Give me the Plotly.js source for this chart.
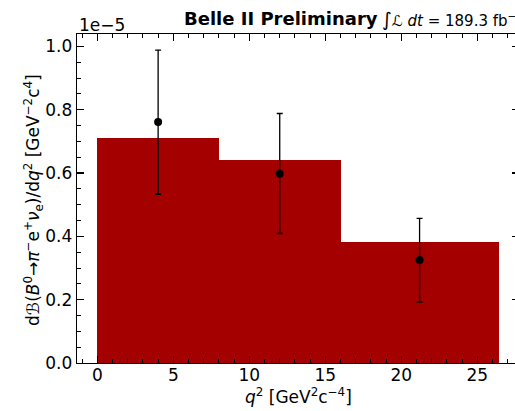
<!DOCTYPE html>
<html>
<head>
<meta charset="utf-8">
<script src="https://cdn.plot.ly/plotly-3.0.1.min.js"></script>
<style>
  html, body { margin: 0; padding: 0; overflow: hidden; background: #fff; }
  #chart { width: 520px; height: 411px; }
</style>
</head>
<body>
<div id="chart"></div>
<script>
// ---- data ----
const binEdges = [0, 8, 16, 26.4];
const predicted = [0.710e-5, 0.640e-5, 0.383e-5];
const measX = [4.0, 12.0, 21.2];
const measY = [0.761e-5, 0.598e-5, 0.325e-5];
const errUp = [0.227e-5, 0.190e-5, 0.132e-5];
const errDown = [0.228e-5, 0.189e-5, 0.133e-5];
const yTickVals = [0, 0.2e-5, 0.4e-5, 0.6e-5, 0.8e-5, 1.0e-5];
const yTickText = ["0.0", "0.2", "0.4", "0.6", "0.8", "1.0"];
const xTickVals = [0, 5, 10, 15, 20, 25];

// ---- geometry helpers (plot area in px) ----
const W = 520, H = 411;
const L = 77, R = 519, T = 34, B = 363;
const px = v => (v - L) / (R - L);
const py = v => (B - v) / (B - T);

const barLeft = binEdges.slice(0, -1);
const barWidth = binEdges.slice(1).map((e, i) => e - binEdges[i]);

const font = "DejaVu Sans, sans-serif";

const traces = [
  {
    type: "bar",
    x: barLeft,
    y: predicted,
    width: barWidth,
    offset: 0,
    marker: { color: "#a40000", line: { width: 0 } },
    hoverinfo: "skip"
  },
  {
    type: "scatter",
    mode: "markers",
    x: measX,
    y: measY,
    marker: { color: "black", size: 8 },
    error_y: {
      type: "data",
      symmetric: false,
      array: errUp,
      arrayminus: errDown,
      color: "black",
      thickness: 1.3,
      width: 3
    }
  }
];

const layout = {
  width: W,
  height: H,
  margin: { l: L, r: W - R, t: T, b: H - B, pad: 0 },
  paper_bgcolor: "white",
  plot_bgcolor: "white",
  showlegend: false,
  bargap: 0,
  font: { family: font, size: 17, color: "black" },
  xaxis: {
    range: [-1.336, 27.74],
    tickmode: "array",
    tickvals: xTickVals,
    ticks: "inside",
    ticklen: 7,
    tickwidth: 1.3,
    tickcolor: "black",
    showline: true,
    linecolor: "black",
    linewidth: 1.3,
    mirror: "allticks",
    showgrid: false,
    zeroline: false,
    tickfont: { family: font, size: 17 },
    ticklabelstandoff: -4,
    minor: { tickmode: "linear", tick0: 0, dtick: 1, ticks: "inside", ticklen: 4, tickwidth: 1, tickcolor: "black", showgrid: false }
  },
  yaxis: {
    range: [0, 1.039e-5],
    tickmode: "array",
    tickvals: yTickVals,
    ticktext: yTickText,
    ticks: "inside",
    ticklen: 7,
    tickwidth: 1.3,
    tickcolor: "black",
    showline: true,
    linecolor: "black",
    linewidth: 1.3,
    mirror: "allticks",
    showgrid: false,
    zeroline: false,
    tickfont: { family: font, size: 17 },
    ticklabelstandoff: 0,
    minor: { tickmode: "linear", tick0: 0, dtick: 0.05e-5, ticks: "inside", ticklen: 4, tickwidth: 1, tickcolor: "black", showgrid: false }
  },
  annotations: [
    {
      xref: "paper", yref: "paper",
      x: px(182), y: py(18.5), xanchor: "left", yanchor: "middle",
      text: "<b>Belle II Preliminary</b>",
      showarrow: false,
      font: { family: font, size: 18, color: "black" }
    },
    {
      xref: "paper", yref: "paper",
      x: px(380), y: py(19), xanchor: "left", yanchor: "middle",
      text: "<span style='font-size:19px'>∫</span><i>ℒ</i> <i>dt</i> = 189.3 fb<sup>−1</sup>",
      showarrow: false,
      font: { family: font, size: 15, color: "black" }
    },
    {
      xref: "paper", yref: "paper",
      x: px(77), y: py(25), xanchor: "left", yanchor: "middle",
      text: "1e−5",
      showarrow: false,
      font: { family: font, size: 17, color: "black" }
    },
    {
      xref: "paper", yref: "paper",
      x: px(298), y: py(396), xanchor: "center", yanchor: "middle",
      text: "<i>q</i><sup>2</sup> [GeV<sup>2</sup>c<sup>−4</sup>]",
      showarrow: false,
      font: { family: font, size: 17, color: "black" }
    },
    {
      xref: "paper", yref: "paper",
      x: px(33), y: py(200), xanchor: "center", yanchor: "middle",
      textangle: -90,
      text: "d<i>ℬ</i>(<i>B</i><sup>0</sup>→<i>π</i><sup>−</sup>e<sup>+</sup><i>ν</i><sub>e</sub>)/d<i>q</i><sup>2</sup> [GeV<sup>−2</sup>c<sup>4</sup>]",
      showarrow: false,
      font: { family: font, size: 17, color: "black" }
    }
  ]
};

Plotly.newPlot("chart", traces, layout, { displayModeBar: false, staticPlot: true });
</script>
</body>
</html>
